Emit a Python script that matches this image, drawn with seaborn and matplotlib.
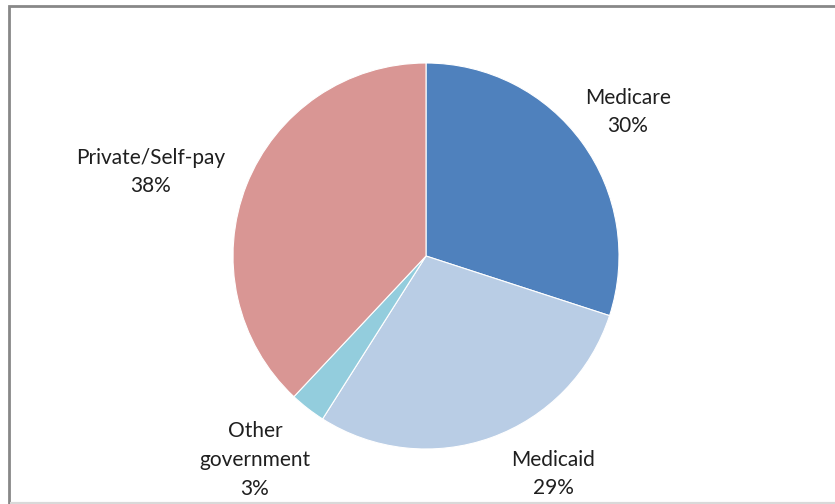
import matplotlib
matplotlib.use("Agg")
import matplotlib.pyplot as plt
from matplotlib.patches import Rectangle
import seaborn as sns

# Payer mix shares (percent)
categories = ["Medicare", "Medicaid", "Other\ngovernment", "Private/Self-pay"]
shares = [30, 29, 3, 38]
colors = ["#4F81BD", "#B9CDE5", "#93CDDD", "#D99694"]

# Label anchor points, in units of the pie radius
label_pos = [(1.047, 0.746), (0.658, -1.13), (-0.886, -1.057), (-1.425, 0.435)]

sns.set_theme(style="white")
plt.rcParams["font.family"] = ["Lato", "DejaVu Sans"]

W, H, DPI = 835, 504, 100
fig = plt.figure(figsize=(W / DPI, H / DPI), dpi=DPI)
ax = fig.add_axes([0, 0, 1, 1])

cx, cy, r = 426, 504 - 256, 193
ax.axis("off")

ax.pie(shares, colors=sns.color_palette(colors), startangle=90, counterclock=False,
       radius=1, center=(0, 0), frame=False,
       wedgeprops=dict(edgecolor="white", linewidth=0.8))
ax.set_xlim(-cx / r, (W - cx) / r)
ax.set_ylim(-cy / r, (H - cy) / r)
ax.set_aspect("auto")

for name, val, (lx, ly) in zip(categories, shares, label_pos):
    ax.text(lx, ly, f"{name}\n{val}%", ha="center", va="center",
            fontsize=15, color="#1f1f1f", linespacing=1.55)

# Outer chart frame
fig.patches.append(Rectangle((9 / W, -0.01), 1.1, (H - 5.5) / H + 0.01,
                             transform=fig.transFigure, fill=False,
                             edgecolor="#888888", linewidth=2))
fig.patches.append(Rectangle((10 / W, 1.5 / H), 1.0, 0,
                             transform=fig.transFigure, fill=False,
                             edgecolor="#d9d9d9", linewidth=1.5))

fig.savefig("out.png", dpi=DPI, facecolor="white")
